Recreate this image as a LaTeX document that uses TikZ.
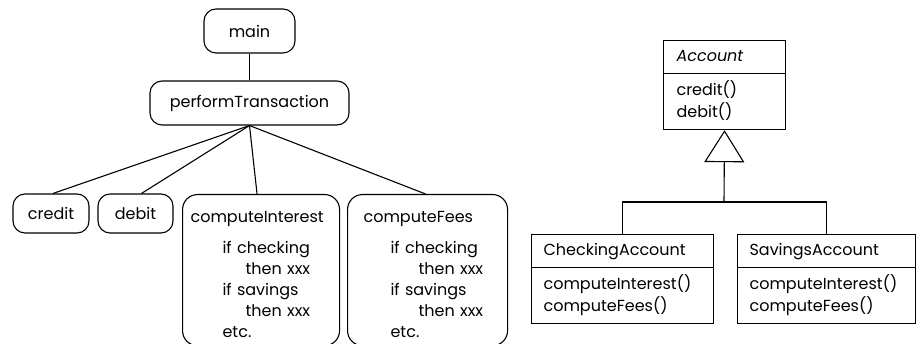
\documentclass[tikz,border=0pt]{standalone}
\usepackage{fontspec}
\setmainfont{Poppins}
\usetikzlibrary{arrows.meta,shapes.multipart}

\begin{document}
\begin{tikzpicture}[x=1pt,y=-1pt,line width=1.1pt,
		every node/.style={font=\fontsize{16}{21}\selectfont},
		call/.style={draw,rounded corners=12pt,inner sep=0pt},
		body/.style={draw,rounded corners=15pt,anchor=north west,align=left,inner ysep=8pt},
		class/.style={draw,anchor=north west,rectangle split,rectangle split parts=2,
			font=\fontsize{16}{20}\selectfont,inner ysep=6pt,inner xsep=12pt}]
		\useasboundingbox (0,0) rectangle (916,344);

		% call tree
		\node[call,minimum width=91pt,minimum height=44pt] (main) at (249.5,31) {main};
		\node[call,minimum width=199pt,minimum height=44pt] (perf) at (249.5,103) {performTransaction};
		\node[call,minimum width=76pt,minimum height=39pt] (credit) at (51,213.5) {credit};
		\node[call,minimum width=75pt,minimum height=39pt] (debit) at (135.5,213.5) {debit};
		\node[body,inner xsep=8pt,text width=141pt] (interest) at (182,194) {\rule{0pt}{20pt}computeInterest\\[10pt]
			\hspace*{32pt}if checking\\
			\hspace*{55pt}then xxx\\
			\hspace*{32pt}if savings\\
			\hspace*{55pt}then xxx\\
			\hspace*{32pt}etc.};
		\node[body,inner xsep=16pt,text width=128pt] (fees) at (347,194) {\rule{0pt}{20pt}computeFees\\[10pt]
			\hspace*{27pt}if checking\\
			\hspace*{55pt}then xxx\\
			\hspace*{27pt}if savings\\
			\hspace*{55pt}then xxx\\
			\hspace*{27pt}etc.};

		\draw (main) -- (perf);
		\draw (perf.south) -- ([xshift=2pt]credit.north);
		\draw (perf.south) -- ([xshift=6pt]debit.north);
		\draw (perf.south) -- ([xshift=-4pt]interest.north);
		\draw (perf.south) -- ([xshift=-2pt]fees.north);

		% class diagram
		\node[class,inner xsep=13pt,text width=96pt,align=left,rectangle split part align={left,left}] (account) at (663,40)
			{\strut\textit{Account}\nodepart{two}\strut credit()\\debit()\strut};
		\node[class,text width=158pt,align=left,rectangle split part align={center,left}] (checking) at (531,234)
			{\strut CheckingAccount\nodepart{two}\strut computeInterest()\\computeFees()\strut};
		\node[class,text width=154pt,align=left,rectangle split part align={center,left}] (savings) at (737,234)
			{\strut SavingsAccount\nodepart{two}\strut computeInterest()\\computeFees()\strut};

		\coordinate (split) at (724,202);
		\draw (checking.north) |- (split) -| (savings.north);
		\draw[-{Triangle[open,length=32pt,width=40pt]}] (split) -- (account.south);
	\end{tikzpicture}
\end{document}
